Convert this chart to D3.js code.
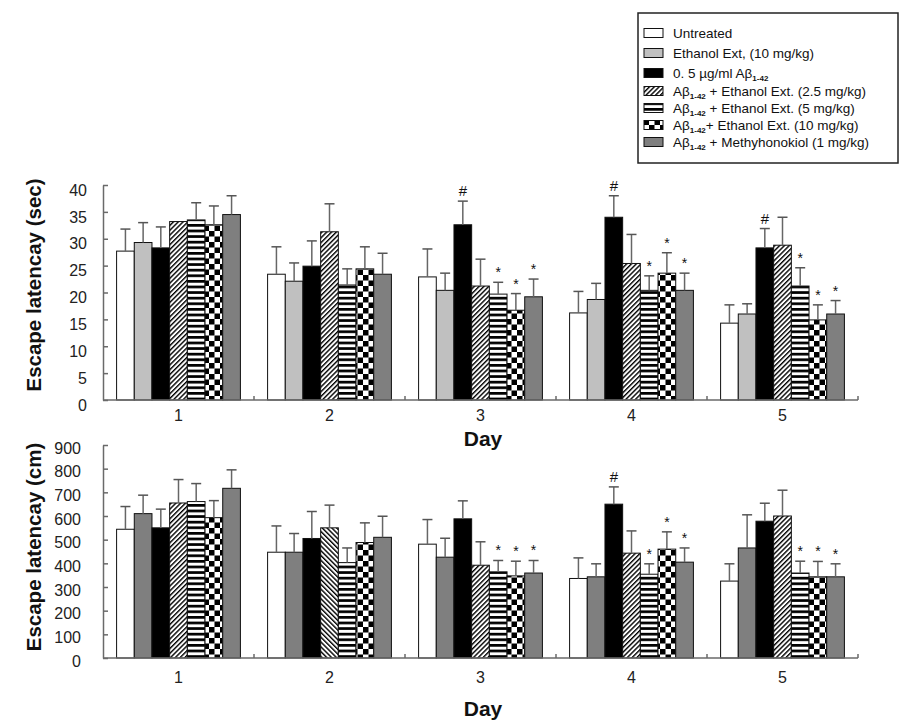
<!DOCTYPE html>
<html><head><meta charset="utf-8">
<script src="https://cdn.jsdelivr.net/npm/d3@7"></script>
<style>
body{margin:0;background:#fff}
svg{display:block}
text{font-family:"Liberation Sans",Arial,sans-serif}
</style>
</head><body>
<svg id="c" width="906" height="726"></svg>
<script>
// ---------- DATA ----------
const days = ["1", "2", "3", "4", "5"];
const seriesKeys = ["untreated", "ethanol", "abeta", "ab25", "ab5", "ab10", "mhk"];
const legendMain = ["Untreated", "Ethanol Ext, (10 mg/kg)", "0. 5 \u00b5g/ml A\u03b2", "A\u03b2", "A\u03b2", "A\u03b2", "A\u03b2"];
const legendSub = ["", "", "1-42", "1-42", "1-42", "1-42", "1-42"];
const legendTail = ["", "", "", " + Ethanol Ext. (2.5 mg/kg)", " + Ethanol Ext. (5 mg/kg)", "+ Ethanol Ext. (10 mg/kg)", " + Methyhonokiol (1 mg/kg)"];

// Escape latency (sec): mean per day
const untreatedSec = [27.7, 23.4, 22.9, 16.2, 14.3];
const ethanolSec   = [29.3, 22.1, 20.4, 18.7, 16.0];
const abetaSec     = [28.3, 24.9, 32.6, 34.0, 28.3];
const ab25Sec      = [33.2, 31.3, 21.2, 25.4, 28.8];
const ab5Sec       = [33.5, 21.4, 19.7, 20.4, 21.2];
const ab10Sec      = [32.6, 24.4, 16.7, 23.6, 14.9];
const mhkSec       = [34.5, 23.4, 19.2, 20.4, 16.0];
// error (upper)
const untreatedSecErr = [4.1, 5.1, 5.2, 4.0, 3.4];
const ethanolSecErr   = [3.7, 3.4, 3.2, 3.0, 1.9];
const abetaSecErr     = [3.9, 4.7, 4.4, 4.0, 3.6];
const ab25SecErr      = [0.0, 5.2, 5.0, 5.4, 5.2];
const ab5SecErr       = [3.2, 3.0, 2.2, 2.7, 3.4];
const ab10SecErr      = [3.5, 4.1, 3.1, 3.8, 2.8];
const mhkSecErr       = [3.5, 3.9, 3.3, 3.2, 2.5];

// Escape latency (cm): mean per day
const untreatedCm = [544, 447, 481, 336, 325];
const ethanolCm   = [610, 447, 426, 343, 465];
const abetaCm     = [550, 505, 588, 650, 578];
const ab25Cm      = [655, 550, 392, 443, 600];
const ab5Cm       = [661, 403, 364, 354, 359];
const ab10Cm      = [593, 488, 347, 460, 343];
const mhkCm       = [717, 510, 359, 405, 343];
const untreatedCmErr = [96, 111, 104, 87, 73];
const ethanolCmErr   = [78, 79, 80, 55, 140];
const abetaCmErr     = [79, 114, 76, 73, 76];
const ab25CmErr      = [99, 96, 99, 94, 109];
const ab5CmErr       = [76, 62, 48, 44, 50];
const ab10CmErr      = [72, 83, 62, 73, 65];
const mhkCmErr       = [78, 89, 53, 60, 55];

const secTicks = [0, 5, 10, 15, 20, 25, 30, 35, 40];
const cmTicks = [0, 100, 200, 300, 400, 500, 600, 700, 800, 900];

// significance marks: [day, series index]
const secHash = [["3", 2], ["4", 2], ["5", 2]];
const secStar = [["3", 4], ["3", 5], ["3", 6], ["4", 4], ["4", 5], ["4", 6], ["5", 4], ["5", 5], ["5", 6]];
const cmHash = [["4", 2]];
const cmStar = [["3", 4], ["3", 5], ["3", 6], ["4", 4], ["4", 5], ["4", 6], ["5", 4], ["5", 5], ["5", 6]];

// ---------- DRAW ----------
const svg = d3.select("#c");
const defs = svg.append("defs");

function hatch(id, angle) {
  const p = defs.append("pattern").attr("id", id).attr("patternUnits", "userSpaceOnUse")
    .attr("width", 3.4).attr("height", 3.4).attr("patternTransform", `rotate(${angle})`);
  p.append("rect").attr("width", 3.4).attr("height", 3.4).attr("fill", "#fff");
  p.append("rect").attr("width", 1.4).attr("height", 3.4).attr("fill", "#000");
}
hatch("hatchF", 45);
hatch("hatchB", -45);
{
  const p = defs.append("pattern").attr("id", "stripe").attr("patternUnits", "userSpaceOnUse")
    .attr("width", 6).attr("height", 5.6);
  p.append("rect").attr("width", 6).attr("height", 5.6).attr("fill", "#fff");
  p.append("rect").attr("width", 6).attr("height", 2.7).attr("fill", "#000");
}
{
  const p = defs.append("pattern").attr("id", "checker").attr("patternUnits", "userSpaceOnUse")
    .attr("width", 11).attr("height", 11);
  p.append("rect").attr("width", 11).attr("height", 11).attr("fill", "#fff");
  p.append("rect").attr("width", 5.5).attr("height", 5.5).attr("fill", "#000");
  p.append("rect").attr("x", 5.5).attr("y", 5.5).attr("width", 5.5).attr("height", 5.5).attr("fill", "#000");
}

const LIGHT = "#c0c0c0", DARK = "#7f7f7f";
const legendFills = ["#fff", LIGHT, "#000", "url(#hatchF)", "url(#stripe)", "url(#checker)", DARK];

const AX = "#6a6a6a";
const xDay = d3.scaleBand().domain(days).range([103, 858]).paddingInner(0.18).paddingOuter(0.09);
const xSer = d3.scaleBand().domain(d3.range(seriesKeys.length)).range([0, xDay.bandwidth()]);

function drawChart(o) {
  const g = svg.append("g");
  const y = d3.scaleLinear().domain(o.domain).range(o.yRange);
  const rows = [];
  days.forEach((d, di) => {
    o.values.forEach((vals, si) => {
      rows.push({day: d, si, v: vals[di], e: o.errors[si][di]});
    });
  });
  const x = r => xDay(r.day) + xSer(r.si);
  const fillFor = r => (o.override && o.override(r)) || o.fills[r.si];

  g.selectAll("rect.bar").data(rows).join("rect").attr("class", "bar")
    .attr("x", x).attr("width", xSer.bandwidth())
    .attr("y", r => y(r.v)).attr("height", r => y(0) - y(r.v))
    .attr("fill", fillFor).attr("stroke", "#111").attr("stroke-width", 1);

  const eb = rows.filter(r => r.e > 0);
  g.selectAll("line.ev").data(eb).join("line").attr("class", "ev")
    .attr("x1", r => x(r) + xSer.bandwidth() / 2).attr("x2", r => x(r) + xSer.bandwidth() / 2)
    .attr("y1", r => y(r.v)).attr("y2", r => y(r.v + r.e))
    .attr("stroke", "#666").attr("stroke-width", 1.5);
  g.selectAll("line.ec").data(eb).join("line").attr("class", "ec")
    .attr("x1", r => x(r) + xSer.bandwidth() / 2 - 5).attr("x2", r => x(r) + xSer.bandwidth() / 2 + 5)
    .attr("y1", r => y(r.v + r.e)).attr("y2", r => y(r.v + r.e))
    .attr("stroke", "#555").attr("stroke-width", 1.5);

  const find = (d, si) => rows.find(r => r.day === d && r.si === si);
  g.selectAll("text.hash").data(o.hash).join("text").attr("class", "hash")
    .attr("x", m => x(find(m[0], m[1])) + xSer.bandwidth() / 2)
    .attr("y", m => { const r = find(m[0], m[1]); return y(r.v + r.e) - 5; })
    .attr("text-anchor", "middle").attr("font-size", 15).attr("fill", "#111").text("#");
  g.selectAll("text.star").data(o.star).join("text").attr("class", "star")
    .attr("x", m => x(find(m[0], m[1])) + xSer.bandwidth() / 2)
    .attr("y", m => { const r = find(m[0], m[1]); return y(r.v + r.e) - 5; })
    .attr("text-anchor", "middle").attr("font-size", 14).attr("fill", "#111").text("*");

  // y axis
  const ya = g.append("g").attr("transform", "translate(103,0)")
    .call(d3.axisLeft(y).tickValues(o.ticks).tickSizeInner(-5).tickSizeOuter(0).tickPadding(o.tickPad));
  ya.select(".domain").attr("stroke", AX).attr("stroke-width", 1.5);
  ya.selectAll(".tick line").attr("stroke", AX).attr("stroke-width", 1.5);
  ya.selectAll(".tick text").attr("font-size", 16).attr("fill", "#222")
    .attr("font-family", '"Liberation Sans",Arial,sans-serif').attr("dy", "0.32em")
    .attr("transform", `translate(0,${o.tickShift})`);

  // x axis
  const y0 = y(0);
  g.append("line").attr("x1", 103).attr("x2", 858).attr("y1", y0).attr("y2", y0)
    .attr("stroke", AX).attr("stroke-width", 1.5);
  const bounds = d3.range(1, days.length + 1).map(i => xDay.range()[0] + i * xDay.step());
  g.selectAll("line.xt").data(bounds).join("line").attr("class", "xt")
    .attr("x1", d => d).attr("x2", d => d).attr("y1", y0).attr("y2", y0 - 4)
    .attr("stroke", AX).attr("stroke-width", 1.5);
  g.selectAll("text.day").data(days).join("text").attr("class", "day")
    .attr("x", d => xDay(d) + xDay.bandwidth() / 2).attr("y", o.dayBase)
    .attr("text-anchor", "middle").attr("font-size", 16).attr("fill", "#222").text(d => d);
  g.append("text").attr("x", 483).attr("y", o.titleBase).attr("text-anchor", "middle")
    .attr("font-size", 21).attr("font-weight", "bold").attr("fill", "#111").text("Day");
  g.append("text").attr("transform", `translate(41,${o.labelY}) rotate(-90)`)
    .attr("text-anchor", "middle").attr("font-size", 20.5).attr("font-weight", "bold").attr("fill", "#111")
    .text(o.label);
}

drawChart({
  values: [untreatedSec, ethanolSec, abetaSec, ab25Sec, ab5Sec, ab10Sec, mhkSec],
  errors: [untreatedSecErr, ethanolSecErr, abetaSecErr, ab25SecErr, ab5SecErr, ab10SecErr, mhkSecErr],
  domain: [0, 40], yRange: [400, 185], ticks: secTicks, tickPad: 16, tickShift: 5,
  fills: legendFills, hash: secHash, star: secStar,
  dayBase: 421, titleBase: 446, label: "Escape latencay (sec)", labelY: 285
});
drawChart({
  values: [untreatedCm, ethanolCm, abetaCm, ab25Cm, ab5Cm, ab10Cm, mhkCm],
  errors: [untreatedCmErr, ethanolCmErr, abetaCmErr, ab25CmErr, ab5CmErr, ab10CmErr, mhkCmErr],
  domain: [0, 900], yRange: [658, 445], ticks: cmTicks, tickPad: 22, tickShift: 3,
  fills: ["#fff", DARK, "#000", "url(#hatchF)", "url(#stripe)", "url(#checker)", DARK],
  override: r => (r.day === "2" && r.si === 3) ? "url(#hatchB)" : null,
  hash: cmHash, star: cmStar,
  dayBase: 683, titleBase: 716, label: "Escape latencay (cm)", labelY: 547
});

// legend
const lg = svg.append("g");
lg.append("rect").attr("x", 638).attr("y", 13).attr("width", 260).attr("height", 150)
  .attr("fill", "#fff").attr("stroke", "#222").attr("stroke-width", 1.5);
const rowY = [33, 53, 73, 91, 108, 125, 142];
const items = lg.selectAll("g.it").data(seriesKeys.map((k, i) => i)).join("g").attr("class", "it")
  .attr("transform", i => `translate(0,${rowY[i]})`);
items.append("rect").attr("x", 644).attr("y", -4.5).attr("width", 19).attr("height", 9)
  .attr("fill", i => legendFills[i]).attr("stroke", "#111").attr("stroke-width", 1);
const tx = items.append("text").attr("x", 673).attr("y", 5).attr("font-size", 13.5).attr("fill", "#111");
tx.append("tspan").text(i => legendMain[i]);
tx.append("tspan").attr("font-size", 8).attr("font-weight", "bold").attr("dy", 3).text(i => legendSub[i]);
tx.append("tspan").attr("dy", -3).text(i => legendTail[i]);
</script>
</body></html>
